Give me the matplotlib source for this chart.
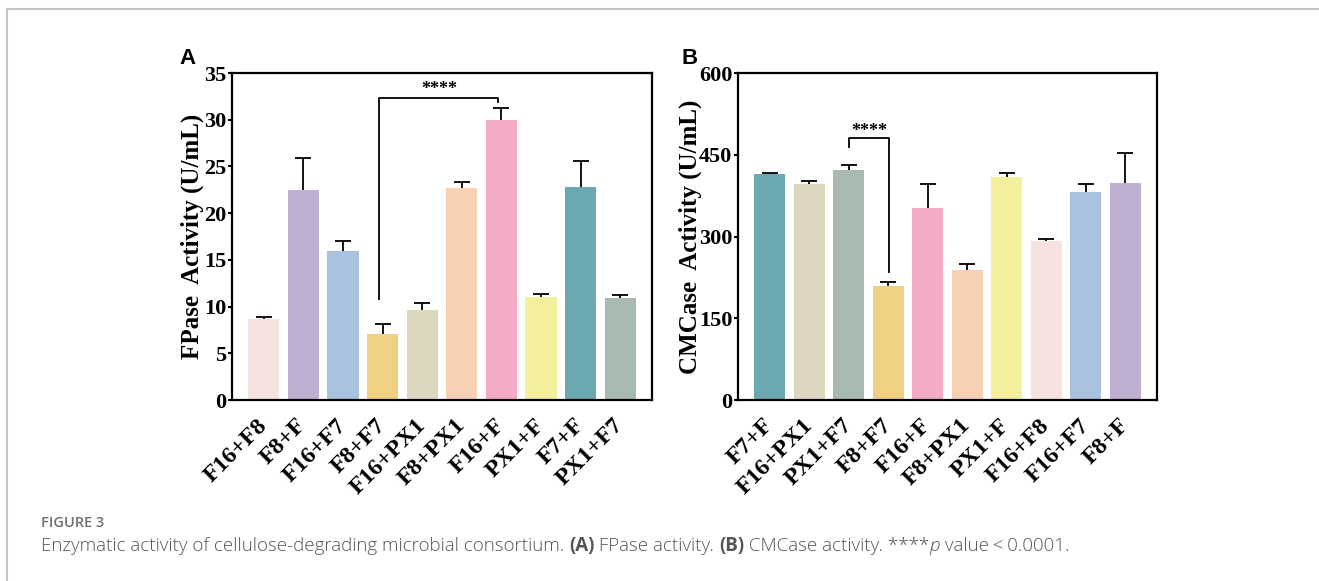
import numpy as np
import matplotlib
matplotlib.use('Agg')
import matplotlib.pyplot as plt
from matplotlib.lines import Line2D

# data
labels_a = ['F16+F8', 'F8+F', 'F16+F7', 'F8+F7', 'F16+PX1', 'F8+PX1', 'F16+F', 'PX1+F', 'F7+F', 'PX1+F7']
fpase = [8.7, 22.5, 16.0, 7.1, 9.6, 22.7, 30.0, 11.0, 22.8, 10.9]
fpase_err = [0.2, 3.4, 1.0, 1.0, 0.8, 0.6, 1.25, 0.4, 2.8, 0.3]

labels_b = ['F7+F', 'F16+PX1', 'PX1+F7', 'F8+F7', 'F16+F', 'F8+PX1', 'PX1+F', 'F16+F8', 'F16+F7', 'F8+F']
cmcase = [414, 397, 422, 210, 353, 239, 409, 292, 382, 398]
cmcase_err = [3, 5, 10, 6, 44, 11, 8, 4, 15, 56]

colors = {
    'F16+F8': '#F6E3E1', 'F8+F': '#BFB0D2', 'F16+F7': '#A7C1DE', 'F8+F7': '#F0D083',
    'F16+PX1': '#DCD8C0', 'F8+PX1': '#F8D0B4', 'F16+F': '#F4ABC8', 'PX1+F': '#F3EF9B',
    'F7+F': '#6BA8B0', 'PX1+F7': '#A8BAB0',
}

serif = 'Liberation Serif'

fig = plt.figure(figsize=(13.19, 5.81), dpi=100)


def panel(rect, labels, vals, errs, ymax, yticks, ylabel, letter, letter_x, lpad):
    ax = fig.add_axes(rect)
    x = np.arange(len(labels))
    ax.bar(x, vals, width=0.79, color=[colors[l] for l in labels], zorder=2)
    # one-sided error bars: stem + top cap
    tops = np.array(vals) + np.array(errs)
    ax.vlines(x, vals, tops, color='black', lw=1.3, zorder=3)
    ax.plot(x, tops, ls='none', marker='_', ms=11, mew=1.3, color='black', zorder=3)
    ax.set_xlim(-0.8, len(labels) - 0.2)
    ax.set_ylim(0, ymax)
    ax.set_yticks(yticks)
    ax.set_yticklabels([str(t) for t in yticks], fontfamily=serif, fontweight='bold', fontsize=16)
    ax.set_xticks(x)
    ax.set_xticklabels(labels, rotation=45, ha='right', va='center', rotation_mode='anchor',
                       fontfamily=serif, fontweight='bold', fontsize=17.5)
    ax.tick_params(axis='x', length=0, pad=16)
    ax.tick_params(axis='y', length=3, width=1.5, pad=1)
    for s in ax.spines.values():
        s.set_linewidth(1.6)
    ax.set_ylabel(ylabel, fontfamily=serif, fontweight='bold', fontsize=18, labelpad=lpad)
    ax.text(letter_x, 1.045, letter, transform=ax.transAxes, fontfamily='Liberation Sans',
            fontweight='bold', fontsize=16, va='center', ha='left')
    return ax


ax1 = panel([0.1759, 0.3115, 0.3184, 0.5628], labels_a, fpase, fpase_err, 35,
            [0, 5, 10, 15, 20, 25, 30, 35], 'FPase  Activity (U/mL)', 'A', -0.124, 0)
ax2 = panel([0.5595, 0.3115, 0.3177, 0.5628], labels_b, cmcase, cmcase_err, 600,
            [0, 150, 300, 450, 600], 'CMCase  Activity (U/mL)', 'B', -0.134, -2)

# significance brackets
ax1.plot([2.92, 2.92, 5.92, 5.92], [10.8, 32.3, 32.3, 31.9], color='black', lw=1.3)
ax1.text(4.42, 32.3, '****', ha='center', va='bottom', fontfamily=serif, fontweight='bold', fontsize=13)
ax2.plot([2.0, 2.0, 3.02, 3.02], [465, 481, 481, 234], color='black', lw=1.3)
ax2.text(2.51, 478, '****', ha='center', va='bottom', fontfamily=serif, fontweight='bold', fontsize=13)

# page frame
fig.add_artist(Line2D([7 / 1319, 7 / 1319, 1.0], [0.0, 1 - 9 / 581, 1 - 9 / 581],
                      transform=fig.transFigure, color='#c4c4c4', lw=1.5))

# caption
fig.text(41 / 1319, 1 - 523 / 581, 'FIGURE 3', fontfamily='Open Sans', fontweight='semibold',
         fontsize=10.5, color='#707070', va='center')

pieces = [
    ('Enzymatic activity of cellulose-degrading microbial consortium. ', 'light', 'normal'),
    ('(A)', 'bold', 'normal'),
    (' FPase activity. ', 'light', 'normal'),
    ('(B)', 'bold', 'normal'),
    (' CMCase activity. ****', 'light', 'normal'),
    ('p', 'light', 'italic'),
    (' value\u2009<\u20090.0001.', 'light', 'normal'),
]
fig.canvas.draw()
renderer = fig.canvas.get_renderer()
xpos = 41
for txt, wt, st in pieces:
    t = fig.text(xpos / 1319, 1 - 546 / 581, txt, fontfamily=['Open Sans', 'DejaVu Sans'],
                 fontweight=wt, fontstyle=st, fontsize=13.5, color='#555555', va='center')
    bb = t.get_window_extent(renderer=renderer)
    xpos += bb.width

fig.savefig('out.png', dpi=100)
